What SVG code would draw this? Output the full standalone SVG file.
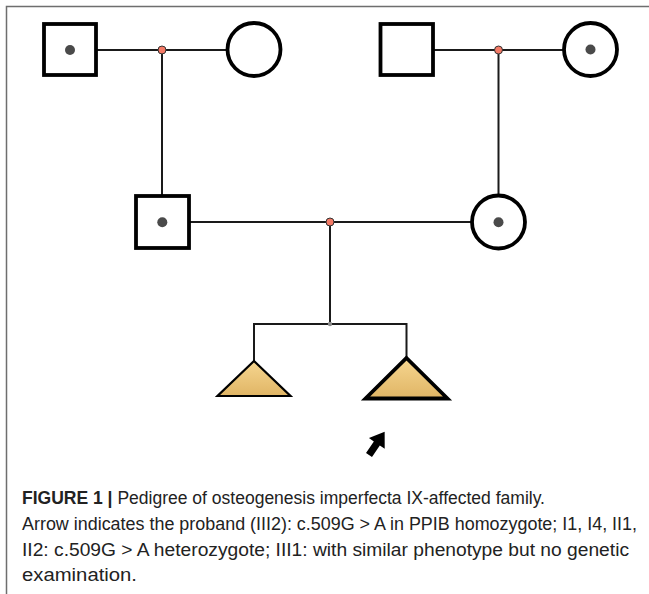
<svg xmlns="http://www.w3.org/2000/svg" width="649" height="594" viewBox="0 0 649 594">
  <defs>
    <linearGradient id="goldFill" x1="0" y1="0" x2="0" y2="1">
      <stop offset="0" stop-color="#f6d690"/>
      <stop offset="1" stop-color="#e0b565"/>
    </linearGradient>
  </defs>
  <style>
    .frame { fill: none; stroke: #6e6e6e; stroke-width: 1.5; }
    .male, .female { fill: #ffffff; stroke: #000000; stroke-width: 3.8; }
    .carrier { fill: #4a4a4a; }
    .link { fill: none; stroke: #1a1a1a; stroke-width: 2; }
    .mate { fill: #f47a66; stroke: #333333; stroke-width: 1; }
    .hub { fill: #8a8a8a; }
    .sib { fill: url(#goldFill); stroke: #000000; stroke-width: 2.2; }
    .sib.proband { stroke-width: 3.8; }
    .caption { font-family: "Liberation Sans", Arial, sans-serif; font-size: 17.5px; fill: #222222; }
    .caption .lead { font-weight: bold; }
  </style>

  <!-- panel frame: top and left rules -->
  <path class="frame" d="M6.5,594 V6.5 H649"/>

  <!-- connectors -->
  <g id="connectors">
    <line class="link" x1="96" y1="50" x2="228" y2="50"/>
    <line class="link" x1="162" y1="50" x2="162" y2="196"/>
    <line class="link" x1="433" y1="50" x2="564" y2="50"/>
    <line class="link" x1="498.5" y1="50" x2="498.5" y2="196"/>
    <line class="link" x1="189" y1="222" x2="472" y2="222"/>
    <line class="link" x1="330" y1="222" x2="330" y2="324"/>
    <polyline class="link" points="254,361 254,324 406.5,324 406.5,358"/>
    <circle class="mate" cx="162" cy="50" r="4"/>
    <circle class="mate" cx="498.5" cy="50" r="4"/>
    <circle class="mate" cx="330" cy="222" r="4"/>
    <circle class="hub" cx="330" cy="324" r="2.2"/>
  </g>

  <!-- generation I -->
  <g id="I1">
    <rect class="male" x="44" y="24" width="52" height="51"/>
    <circle class="carrier" cx="70" cy="50" r="5"/>
  </g>
  <g id="I2">
    <circle class="female" cx="254" cy="49.5" r="26.5"/>
  </g>
  <g id="I3">
    <rect class="male" x="380.5" y="24" width="52.5" height="51"/>
  </g>
  <g id="I4">
    <circle class="female" cx="590.5" cy="49.5" r="26.5"/>
    <circle class="carrier" cx="590.5" cy="49.5" r="5"/>
  </g>

  <!-- generation II -->
  <g id="II1">
    <rect class="male" x="136" y="196" width="53" height="52"/>
    <circle class="carrier" cx="162.3" cy="222.3" r="5"/>
  </g>
  <g id="II2">
    <circle class="female" cx="498.5" cy="222" r="26.5"/>
    <circle class="carrier" cx="498.5" cy="222.3" r="5"/>
  </g>

  <!-- generation III -->
  <g id="III1">
    <polygon class="sib" points="254,361 290.5,396 217.5,396"/>
  </g>
  <g id="III2">
    <polygon class="sib proband" points="406.5,358 447.5,398.5 365.5,398.5"/>
  </g>

  <!-- proband pointer -->
  <g id="proband-arrow" transform="translate(369,455) rotate(-56)">
    <polygon fill="#000000" points="0,-3.6 14,-3.6 14,-9.5 28,0 14,9.5 14,3.6 0,3.6"/>
  </g>

  <!-- caption -->
  <g id="caption" class="caption">
    <text x="22" y="504" textLength="523" lengthAdjust="spacingAndGlyphs"><tspan class="lead">FIGURE 1 |</tspan> Pedigree of osteogenesis imperfecta IX-affected family.</text>
    <text x="22" y="530" textLength="615" lengthAdjust="spacingAndGlyphs">Arrow indicates the proband (III2): c.509G &gt; A in PPIB homozygote; I1, I4, II1,</text>
    <text x="22" y="556" textLength="607" lengthAdjust="spacingAndGlyphs">II2: c.509G &gt; A heterozygote; III1: with similar phenotype but no genetic</text>
    <text x="22" y="581" textLength="115" lengthAdjust="spacingAndGlyphs">examination.</text>
  </g>
</svg>
